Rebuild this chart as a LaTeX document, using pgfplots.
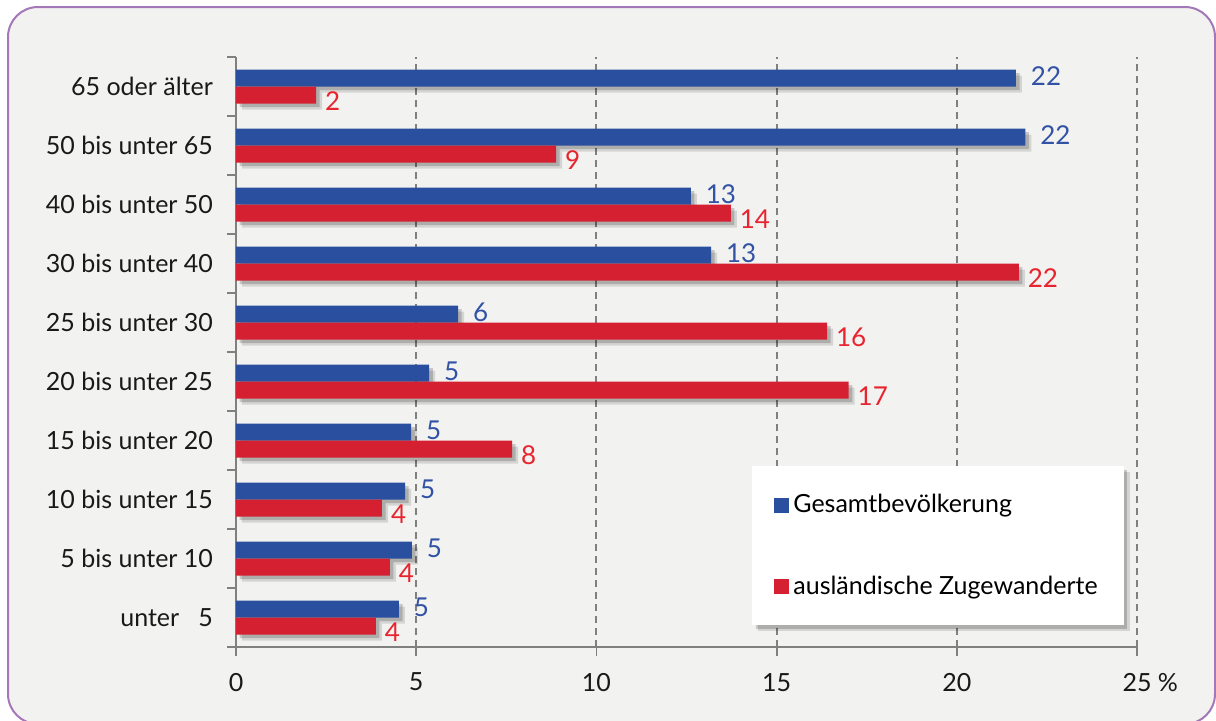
\documentclass[border=0pt]{standalone}
\usepackage{fontspec}
\setmainfont{Lato}
\usepackage{pgfplots}
\pgfplotsset{compat=1.18}
\usetikzlibrary{shadows}

\definecolor{barblue}{RGB}{42,79,158}
\definecolor{barred}{RGB}{212,32,48}
\definecolor{lblblue}{RGB}{50,82,165}
\definecolor{lblred}{RGB}{232,36,46}
\definecolor{axgray}{RGB}{128,128,128}
\definecolor{bg}{RGB}{242,242,241}
\definecolor{frame}{RGB}{164,120,184}

\tikzset{softshadow/.style={
    drop shadow={shadow xshift=3pt, shadow yshift=-3pt, opacity=0.12, fill=black},
    drop shadow={shadow xshift=1.8pt, shadow yshift=-1.8pt, opacity=0.18, fill=black}}}
\makeatletter
\tikzset{noshadow/.code={\def\tikz@preactions{}}}
\makeatother

\begin{document}
\begin{tikzpicture}
\path[use as bounding box] (0,0) rectangle (608pt,360pt);
\draw[draw=frame, fill=bg, line width=1pt, rounded corners=15pt] (4pt,356.5pt) rectangle (607.5pt,-2pt);
\begin{axis}[
    at={(118pt,36.5pt)}, anchor=south west,
    scale only axis, width=450.5pt, height=295pt,
    xbar, bar width=8.5pt,
    xmin=0, xmax=25, ymin=-0.5, ymax=9.5,
    axis lines*=left,
    axis line style={draw=axgray, line width=0.9pt},
    tick align=outside, major tick length=4.5pt,
    tick style={draw=axgray, line width=0.9pt},
    xtick={0,5,...,25},
    xticklabels={0,5,10,15,20,{25\rlap{\ \%}}},
    xticklabel style={yshift=-5pt},
    xmajorgrids,
    grid style={draw=axgray, dash pattern=on 3.5pt off 2.5pt, line width=1pt},
    ytick={-0.5,0.5,...,9.5}, yticklabels={},
    extra y ticks={0,1,...,9},
    extra y tick labels={unter\ \ \ 5,5 bis unter 10,10 bis unter 15,15 bis unter 20,20 bis unter 25,25 bis unter 30,30 bis unter 40,40 bis unter 50,50 bis unter 65,65 oder älter},
    extra y tick style={major tick length=0pt, yticklabel style={xshift=-8pt}},
    ticklabel style={font=\fontsize{12.5}{15}\selectfont, text=black!90},
    legend style={at={(rel axis cs:0.5727,0.3068)}, anchor=north west,
        draw=none, fill=white, softshadow,
        inner xsep=11pt, inner ysep=12pt, row sep=26pt,
        font=\fontsize{12.5}{15}\selectfont},
    legend cell align=left,
]
% Gesamtbevoelkerung
\addplot[fill=barblue, draw=none, bar shift=4.25pt, softshadow,
    nodes near coords={\pgfmathprintnumber[fixed,precision=0,assume math mode=true]{\pgfplotspointmeta}},
    every node near coord/.append style={text=lblblue, font=\fontsize{13}{15}\selectfont, xshift=4pt, yshift=1pt},
    legend image code/.code={\fill[noshadow, barblue] (0pt,-3.75pt) rectangle (7.5pt,3.75pt);}]
    coordinates {(4.52,0) (4.88,1) (4.69,2) (4.86,3) (5.36,4) (6.16,5) (13.18,6) (12.62,7) (21.9,8) (21.64,9)};
\addlegendentry{Gesamtbevölkerung}
% auslaendische Zugewanderte
\addplot[fill=barred, draw=none, bar shift=-4.25pt, softshadow,
    nodes near coords={\pgfmathprintnumber[fixed,precision=0,assume math mode=true]{\pgfplotspointmeta}},
    every node near coord/.append style={text=lblred, font=\fontsize{13}{15}\selectfont, xshift=1pt, yshift=-3pt},
    legend image code/.code={\fill[noshadow, barred] (0pt,-3.75pt) rectangle (7.5pt,3.75pt);}]
    coordinates {(3.88,0) (4.27,1) (4.05,2) (7.66,3) (17.0,4) (16.4,5) (21.72,6) (13.73,7) (8.88,8) (2.22,9)};
\addlegendentry{ausländische Zugewanderte}
\end{axis}
\end{tikzpicture}
\end{document}
